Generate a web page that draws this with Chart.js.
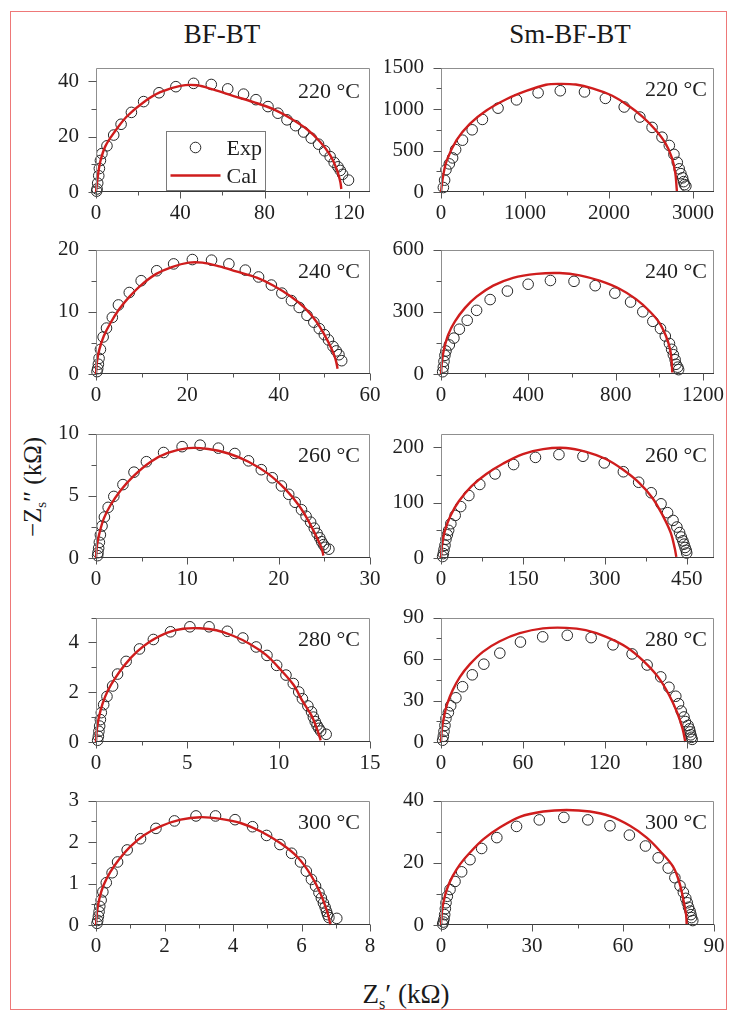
<!DOCTYPE html>
<html>
<head>
<meta charset="utf-8">
<script src="https://cdn.jsdelivr.net/npm/chart.js@4.4.1/dist/chart.umd.min.js"></script>
<style>
  html, body { margin: 0; padding: 0; background: #fff; }
  body { width: 729px; height: 1012px; position: relative; overflow: hidden;
         font-family: "Liberation Serif", "Times New Roman", serif; color: #1a1a1a; }
  #frame { position: absolute; left: 10px; top: 11px; width: 717px; height: 999px;
           border: 1.5px solid #ee7878; box-sizing: border-box; }
  canvas { position: absolute; }
  .title { position: absolute; top: 19px; width: 200px; text-align: center;
           font-size: 27px; line-height: 30px; white-space: nowrap; }
  .axlab { position: absolute; width: 220px; height: 30px; text-align: center;
           font-size: 27px; line-height: 30px; white-space: nowrap; }
  .axlab sub { font-size: 0.6em; line-height: 0; vertical-align: -0.35em; }
  .ylab { font-size: 25px; }
</style>
</head>
<body>
<div id="frame"></div>
<div class="title" style="left:122px">BF-BT</div>
<div class="title" style="left:470px">Sm-BF-BT</div>
<div class="axlab ylab" style="left:-77px; top:472px; transform:rotate(-90deg)">−Z<sub>s</sub>′′ (kΩ)</div>
<div class="axlab" style="left:296px; top:979px">Z<sub>s</sub>′ (kΩ)</div>

<script>
// Impedance spectra: experimental points [Z', -Z''] and fitted curves, in kΩ.

const bf220Exp = [[0.3,0.3],[0.5,1.1],[0.8,3.2],[1.3,5.9],[1.6,8.5],[2.1,11.4],[2.8,13.9],[5.2,16.7],[8.4,20.6],[11.9,24.5],[16.8,28.8],[22.6,32.7],[29.9,35.9],[37.9,38.1],[46.3,39.3],[54.7,38.9],[62.5,37.3],[70.0,35.4],[75.9,33.4],[81.6,30.9],[86.3,28.5],[90.6,26.1],[94.7,24.0],[98.5,21.7],[102.1,19.5],[105.6,17.3],[108.5,14.9],[111.1,12.8],[113.0,10.7],[114.8,9.1],[115.9,7.8],[117.0,6.4],[119.8,4.3]];
const bf220Cal = [[0,0],[0.9,5.9],[2.1,11.2],[4.4,16.5],[8.4,21.3],[14.7,27.4],[22.6,32.5],[30.5,36.1],[40.0,38.4],[47.9,38.6],[55.8,37.0],[65.3,34.7],[74.8,32.5],[84.3,29.9],[92.2,26.7],[100.1,22.7],[106.4,18.1],[111.1,13.3],[114.3,8.0],[115.9,3.7],[116.4,1.1]];

const smBf220Exp = [[28,54],[43,143],[59,268],[99,339],[138,411],[174,511],[256,625],[371,750],[493,875],[679,1011],[899,1111],[1156,1196],[1420,1221],[1708,1207],[1957,1129],[2181,1025],[2367,904],[2513,779],[2631,661],[2718,561],[2773,454],[2813,357],[2836,279],[2856,221],[2876,171],[2888,125],[2899,89],[2915,71]];
const smBf220Cal = [[0,0],[20,161],[67,375],[185,625],[343,821],[540,982],[777,1118],[1014,1218],[1250,1293],[1408,1304],[1605,1296],[1803,1250],[2039,1161],[2237,1036],[2394,911],[2552,750],[2671,589],[2749,411],[2789,232],[2805,54],[2809,0]];

const bf240Exp = [[0.22,0.38],[0.37,0.86],[0.52,1.57],[0.67,2.52],[0.97,3.95],[1.56,5.95],[2.30,7.38],[3.57,9.10],[4.91,11.1],[7.29,13.1],[9.89,15.0],[13.3,16.6],[17.0,17.7],[21.1,18.4],[25.3,18.3],[29.1,17.7],[32.7,16.7],[35.6,15.6],[38.4,14.3],[40.7,13.0],[42.8,11.8],[44.5,10.7],[46.2,9.43],[47.7,8.33],[48.9,7.29],[50.0,6.33],[50.9,5.48],[51.9,4.43],[52.6,3.71],[53.2,3.10],[53.8,2.14]];
const bf240Cal = [[0,0],[0.22,2.05],[0.74,3.95],[1.71,6.10],[3.20,8.24],[5.06,10.4],[7.29,12.4],[9.89,14.3],[13.2,16.1],[16.6,17.2],[20.3,17.9],[23.3,17.9],[27.0,17.3],[30.7,16.5],[35.2,15.5],[38.9,14.2],[42.6,12.5],[45.6,10.7],[48.2,8.48],[50.0,6.33],[51.5,4.19],[52.4,2.52],[52.9,0.86]];

const smBf240Exp = [[7.6,11],[10.7,33],[13.7,61],[18,90],[22.8,111],[38,140],[59,173],[84,216],[120,259],[163,307],[225,359],[304,400],[399,433],[501,451],[609,447],[706,426],[796,390],[868,347],[924,300],[970,254],[1005,219],[1027,183],[1046,147],[1056,119],[1064,93],[1072,69],[1076,47],[1084,33],[1088,21]];
const smBf240Cal = [[0,0],[4.6,61],[13.7,119],[33,190],[64,254],[110,319],[163,373],[239,426],[330,464],[437,483],[543,487],[635,476],[726,450],[817,411],[893,361],[954,304],[1000,247],[1030,183],[1049,119],[1056,61],[1059,7]];

const bf260Exp = [[0.18,0.19],[0.22,0.43],[0.29,0.79],[0.37,1.26],[0.48,1.86],[0.66,2.57],[0.92,3.29],[1.33,4.07],[1.95,4.95],[2.95,5.90],[4.16,6.90],[5.52,7.74],[7.40,8.48],[9.43,8.95],[11.4,9.07],[13.4,8.83],[15.2,8.40],[16.7,7.81],[18.1,7.10],[19.3,6.45],[20.3,5.79],[21.1,5.12],[21.8,4.48],[22.5,3.88],[23.0,3.36],[23.5,2.88],[23.9,2.40],[24.2,1.98],[24.5,1.62],[24.7,1.31],[24.9,1.07],[25.1,0.86],[25.5,0.71]];
const bf260Cal = [[0,0],[0.11,1.02],[0.37,1.98],[0.85,3.17],[1.58,4.24],[2.69,5.43],[4.16,6.62],[6.00,7.74],[7.85,8.45],[10.1,8.83],[12.3,8.76],[14.5,8.40],[16.7,7.74],[18.9,6.74],[20.7,5.55],[22.2,4.24],[23.3,2.93],[24.2,1.62],[24.7,0.79],[24.9,0.19]];

const smBf260Exp = [[3.0,2.7],[4.3,8],[5.5,15],[7.3,23],[9.1,34],[11.6,42],[14,50],[18,62],[26,77],[36,93],[51,113],[71,133],[99,152],[133,169],[173,182],[216,187],[260,184],[299,172],[334,156],[362,137],[385,118],[403,98],[415,82],[425,68],[432,56],[437,46],[440,38],[443,31],[445,25],[447,19],[449,14],[450,9]];
const smBf260Cal = [[0,0],[1.8,23],[7.3,50],[17.6,77],[33,103],[56,130],[83,152],[114,171],[150,188],[187,197],[229,199],[266,192],[302,179],[333,160],[363,136],[387,109],[406,77],[421,45],[428,18],[431,2]];

const bf280Exp = [[0.09,0.07],[0.13,0.23],[0.16,0.43],[0.20,0.64],[0.24,0.90],[0.29,1.18],[0.42,1.50],[0.60,1.83],[0.91,2.25],[1.18,2.73],[1.65,3.24],[2.38,3.74],[3.14,4.12],[4.08,4.43],[5.14,4.63],[6.19,4.63],[7.19,4.45],[8.04,4.18],[8.77,3.82],[9.36,3.48],[9.89,3.08],[10.4,2.69],[10.8,2.35],[11.1,2.01],[11.3,1.74],[11.6,1.45],[11.8,1.21],[11.9,1.00],[12.0,0.82],[12.1,0.67],[12.2,0.55],[12.3,0.44],[12.6,0.31]];
const bf280Cal = [[0,0],[0.05,0.52],[0.16,1.0],[0.36,1.54],[0.65,2.07],[1.05,2.57],[1.60,3.12],[2.23,3.62],[2.96,4.04],[3.87,4.39],[4.77,4.55],[5.68,4.57],[6.59,4.49],[7.50,4.27],[8.40,3.95],[9.31,3.50],[10.0,2.99],[10.8,2.31],[11.3,1.65],[11.8,1.06],[12.1,0.52],[12.3,0.07]];

const smBf280Exp = [[1.2,1.3],[1.7,4.1],[2.2,7.7],[2.9,12.0],[3.6,17.0],[5.4,21.3],[7.1,26.2],[10.9,32.0],[15.8,40.0],[22.9,48.6],[31.4,56.3],[43.1,64.3],[58.2,72.3],[74.5,76.1],[92.5,77.2],[110,75.5],[126,70.3],[140,63.7],[151,55.7],[161,47.1],[167,39.6],[172,33.1],[174,27.7],[176,22.4],[178,18.1],[179,14.8],[181,12.0],[182,9.5],[182.5,7.3],[183,5.2],[183.5,3.4],[184,1.9]];
const smBf280Cal = [[0,0],[0.7,9.5],[2.2,18.1],[4.6,27.7],[8.5,37.4],[13.9,47.1],[21.2,56.3],[30.9,65.4],[43.1,72.9],[57.7,78.7],[74.7,82.2],[91.7,82.6],[106,80.9],[121,76.1],[136,68.6],[148,58.9],[159,47.1],[167,34.2],[173,21.3],[177,9.5],[179,0]];

const bf300Exp = [[0.03,0.04],[0.05,0.11],[0.07,0.21],[0.09,0.32],[0.11,0.45],[0.15,0.60],[0.20,0.80],[0.30,1.02],[0.47,1.26],[0.63,1.52],[0.91,1.81],[1.30,2.08],[1.75,2.33],[2.29,2.51],[2.92,2.63],[3.49,2.63],[4.06,2.54],[4.57,2.37],[4.98,2.16],[5.37,1.94],[5.71,1.73],[5.97,1.52],[6.14,1.30],[6.29,1.10],[6.41,0.94],[6.51,0.78],[6.58,0.65],[6.64,0.53],[6.69,0.43],[6.73,0.33],[6.76,0.25],[6.80,0.18],[7.03,0.16]];
const bf300Cal = [[0,0],[0.03,0.32],[0.10,0.64],[0.22,0.96],[0.42,1.28],[0.66,1.57],[1.00,1.89],[1.39,2.16],[1.88,2.38],[2.47,2.54],[3.05,2.60],[3.64,2.56],[4.22,2.46],[4.80,2.26],[5.39,1.97],[5.88,1.64],[6.27,1.21],[6.56,0.75],[6.75,0.32],[6.85,0]];

const smBf300Exp = [[0.55,0.29],[0.77,0.95],[0.99,1.90],[1.21,3.33],[1.43,5.24],[1.65,7.14],[2.09,9.24],[2.97,11.4],[4.62,14.0],[6.81,17.1],[9.56,21.0],[13.4,24.6],[18.4,28.1],[24.9,31.7],[32.4,33.8],[40.5,34.6],[48.4,33.8],[55.7,31.9],[62.1,28.9],[67.4,25.4],[71.6,21.6],[74.9,18.3],[77.1,15.2],[78.8,12.6],[79.9,10.5],[80.7,8.57],[81.2,7.14],[81.6,5.71],[82.1,4.48],[82.4,3.33],[82.6,2.38],[83.0,1.43]];
const smBf300Cal = [[0,0],[0.33,4.29],[0.99,8.10],[2.09,11.9],[3.85,15.7],[6.26,19.5],[9.56,23.3],[14.0,27.6],[19.5,31.4],[26.0,34.8],[33.7,36.5],[41.4,37.0],[49.1,36.5],[55.7,35.0],[62.3,31.9],[67.8,28.1],[72.2,23.8],[76.6,18.6],[78.8,12.9],[80.1,7.14],[80.8,3.33],[81.0,0]];

// Axis extents and tick steps: [max, labelled step, minor step]
const bf220Axes   = { x: [130, 40, 20],    y: [45, 20, 10] };
const smBf220Axes = { x: [3250, 1000, 500], y: [1500, 500, 250] };
const bf240Axes   = { x: [60, 20, 10],     y: [20, 10, 5] };
const smBf240Axes = { x: [1250, 400, 200], y: [600, 300, 150] };
const bf260Axes   = { x: [30, 10, 5],      y: [10, 5, 2.5] };
const smBf260Axes = { x: [500, 150, 75],   y: [225, 100, 50] };
const bf280Axes   = { x: [15, 5, 2.5],     y: [5, 2, 1] };
const smBf280Axes = { x: [200, 60, 30],    y: [90, 30, 15] };
const bf300Axes   = { x: [8, 2, 1],        y: [3, 1, 0.5] };
const smBf300Axes = { x: [90, 30, 15],     y: [40, 20, 10] };

const temperatures = ['220 °C', '240 °C', '260 °C', '280 °C', '300 °C'];

const panels = [
  { exp: bf220Exp,   cal: bf220Cal,   axes: bf220Axes,   row: 0, col: 0, legend: true },
  { exp: smBf220Exp, cal: smBf220Cal, axes: smBf220Axes, row: 0, col: 1 },
  { exp: bf240Exp,   cal: bf240Cal,   axes: bf240Axes,   row: 1, col: 0 },
  { exp: smBf240Exp, cal: smBf240Cal, axes: smBf240Axes, row: 1, col: 1 },
  { exp: bf260Exp,   cal: bf260Cal,   axes: bf260Axes,   row: 2, col: 0 },
  { exp: smBf260Exp, cal: smBf260Cal, axes: smBf260Axes, row: 2, col: 1 },
  { exp: bf280Exp,   cal: bf280Cal,   axes: bf280Axes,   row: 3, col: 0 },
  { exp: smBf280Exp, cal: smBf280Cal, axes: smBf280Axes, row: 3, col: 1 },
  { exp: bf300Exp,   cal: bf300Cal,   axes: bf300Axes,   row: 4, col: 0 },
  { exp: smBf300Exp, cal: smBf300Cal, axes: smBf300Axes, row: 4, col: 1 },
];

// Page layout of the plot boxes
const colLeft  = [96, 441];
const colWidth = [274, 273];
const rowTop   = [52, 234, 418, 602, 785];
const boxHeight = 140;
const padL = 56, padT = 14, padR = 26, padB = 34;
const tempInset = [10, 7];

const SERIF = '"Liberation Serif", "Times New Roman", serif';
const RED = '#cf1d1d';
const INK = '#1f1f1f';

Chart.defaults.font.family = SERIF;
Chart.defaults.font.size = 21;
Chart.defaults.color = INK;

const isMultiple = (v, step) => Math.abs(v / step - Math.round(v / step)) < 1e-6;

function stepTicks(max, minor) {
  const out = [];
  for (let i = 0; ; i++) {
    const v = +(i * minor).toFixed(6);
    if (v > max + 1e-9) break;
    out.push({ value: v });
  }
  return out;
}

// Frame, tick marks, temperature tag and legend for each panel
const panelDecor = {
  id: 'panelDecor',
  afterDraw(chart, args, opts) {
    const { ctx, chartArea: a } = chart;
    const L = Math.round(a.left) + 0.5, R = Math.round(a.right) - 0.5;
    const T = Math.round(a.top) + 0.5, B = Math.round(a.bottom) - 0.5;
    ctx.save();
    ctx.lineWidth = 1;
    ctx.strokeStyle = '#8f8f8f';
    ctx.beginPath();
    ctx.moveTo(L, B); ctx.lineTo(L, T); ctx.lineTo(R, T); ctx.lineTo(R, B);
    ctx.stroke();
    ctx.strokeStyle = '#3a3a3a';
    ctx.beginPath(); ctx.moveTo(L - 0.5, B); ctx.lineTo(R + 0.5, B); ctx.stroke();

    ctx.strokeStyle = '#555';
    const xs = chart.scales.x, ys = chart.scales.y;
    ctx.beginPath();
    xs.ticks.forEach(t => {
      const p = Math.round(xs.getPixelForValue(t.value)) + 0.5;
      const len = isMultiple(t.value, opts.xMajor) ? 7 : 4;
      ctx.moveTo(p, B); ctx.lineTo(p, B + len);
    });
    ys.ticks.forEach(t => {
      const p = Math.round(ys.getPixelForValue(t.value)) + 0.5;
      const len = isMultiple(t.value, opts.yMajor) ? 8 : 5;
      ctx.moveTo(L, p); ctx.lineTo(L - len, p);
    });
    ctx.stroke();

    ctx.fillStyle = INK;
    ctx.font = '22px ' + SERIF;
    ctx.textAlign = 'right';
    ctx.textBaseline = 'alphabetic';
    ctx.fillText(opts.temp, a.right - opts.inset, a.top + opts.tempDy);

    if (opts.legend) {
      const [expSet, calSet] = chart.data.datasets;
      const bx = Math.round(a.left + 70) + 0.5, by = Math.round(a.top + 63) + 0.5;
      ctx.fillStyle = '#fff';
      ctx.fillRect(bx, by, 99, 59);
      ctx.strokeStyle = '#7a7a7a';
      ctx.strokeRect(bx, by, 99, 59);
      ctx.strokeStyle = expSet.borderColor;
      ctx.lineWidth = expSet.borderWidth;
      ctx.beginPath(); ctx.arc(bx + 29, by + 16, expSet.pointRadius, 0, Math.PI * 2); ctx.stroke();
      ctx.strokeStyle = calSet.borderColor;
      ctx.lineWidth = calSet.borderWidth;
      ctx.beginPath(); ctx.moveTo(bx + 4, by + 44); ctx.lineTo(bx + 54, by + 44); ctx.stroke();
      ctx.fillStyle = INK;
      ctx.textAlign = 'left';
      ctx.font = '22px ' + SERIF;
      ctx.fillText(expSet.label, bx + 60, by + 23);
      ctx.fillText(calSet.label, bx + 60, by + 51);
    }
    ctx.restore();
  }
};

panels.forEach((p, i) => {
  const w = colWidth[p.col] + padL + padR;
  const h = boxHeight + padT + padB;
  const cv = document.createElement('canvas');
  cv.width = w; cv.height = h;
  cv.style.left = (colLeft[p.col] - padL) + 'px';
  cv.style.top = (rowTop[p.row] - padT) + 'px';
  cv.style.width = w + 'px'; cv.style.height = h + 'px';
  document.body.appendChild(cv);

  const [xMax, xMajor, xMinor] = p.axes.x;
  const [yMax, yMajor, yMinor] = p.axes.y;
  const toXY = arr => arr.map(([x, y]) => ({ x, y }));

  new Chart(cv, {
    type: 'scatter',
    data: {
      datasets: [
        { label: 'Exp', data: toXY(p.exp), showLine: false, pointStyle: 'circle',
          pointRadius: 5.3, pointBorderWidth: 1, borderWidth: 1,
          borderColor: '#262626', backgroundColor: 'rgba(0,0,0,0)',
          pointBorderColor: '#262626', pointBackgroundColor: 'rgba(0,0,0,0)',
          clip: false, order: 1 },
        { label: 'Cal', data: toXY(p.cal), showLine: true, pointRadius: 0,
          borderColor: RED, borderWidth: 2.4, tension: 0.35, fill: false,
          clip: 2, order: 0 }
      ]
    },
    options: {
      responsive: false,
      devicePixelRatio: 1,
      animation: false,
      events: [],
      layout: { padding: { left: 0, top: padT, right: padR, bottom: 0 } },
      plugins: {
        legend: { display: false },
        tooltip: { enabled: false },
        panelDecor: { temp: temperatures[p.row], inset: tempInset[p.col],
                      tempDy: (i === 0 ? 30 : 28), legend: !!p.legend,
                      xMajor, yMajor }
      },
      scales: {
        x: {
          type: 'linear', min: 0, max: xMax,
          grid: { display: false, drawTicks: false, tickLength: 0 },
          border: { display: false },
          afterBuildTicks: s => { s.ticks = stepTicks(xMax, xMinor); },
          afterFit: s => { s.height = padB; },
          ticks: { autoSkip: false, maxRotation: 0, minRotation: 0, padding: 9,
                   callback: v => isMultiple(v, xMajor) ? String(v) : '' }
        },
        y: {
          type: 'linear', min: 0, max: yMax,
          grid: { display: false, drawTicks: false, tickLength: 0 },
          border: { display: false },
          afterBuildTicks: s => { s.ticks = stepTicks(yMax, yMinor); },
          afterFit: s => { s.width = padL; },
          ticks: { autoSkip: false, padding: 17,
                   callback: v => isMultiple(v, yMajor) ? String(v) : '' }
        }
      }
    },
    plugins: [panelDecor]
  });
});
</script>
</body>
</html>
